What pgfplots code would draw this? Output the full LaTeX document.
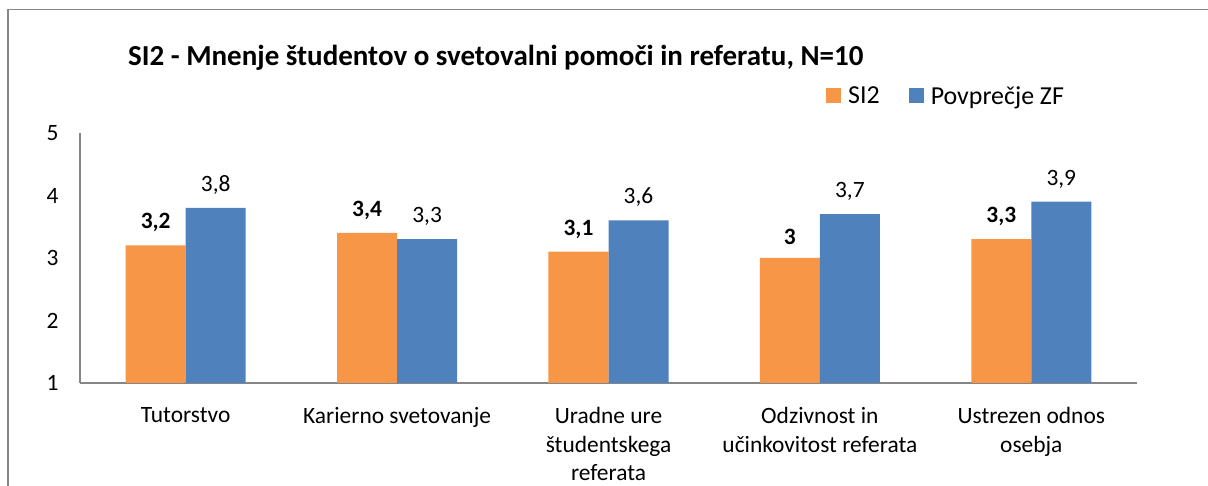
\documentclass[border=0pt]{standalone}
\usepackage{pgfplots}
\pgfplotsset{compat=1.18}
\usepackage{fontspec}
\setmainfont{Carlito}

\definecolor{siorange}{HTML}{F79646}
\definecolor{zfblue}{HTML}{4F81BD}
\definecolor{axgray}{HTML}{868686}

\begin{document}
\begin{tikzpicture}[x=1bp,y=1bp]
% page = 1208 x 486, axis origin at pixel (80,383)
\useasboundingbox (-80,-103) rectangle (1128,383);
\draw[axgray, line width=1.8bp] (-72,-110) -- (-72,373.5) -- (1135,373.5);

\begin{axis}[
    at={(0,0)}, anchor=south west,
    scale only axis, width=1057bp, height=250bp,
    ymin=1, ymax=5, ytick={1,2,3,4,5},
    xmin=-0.5, xmax=4.5, xtick=data,
    xticklabels={Tutorstvo, Karierno svetovanje, {Uradne ure\\študentskega\\referata},
                 {Odzivnost in\\učinkovitost referata}, {Ustrezen odnos\\osebja}},
    axis x line=bottom, axis y line=left,
    axis line style={axgray, line width=1.2bp, -},
    major tick length=0pt,
    ybar=0pt, bar width=60bp,
    /pgf/number format/.cd, use comma, fixed, precision=1, assume math mode=true, /pgfplots/.cd,
    ticklabel style={font=\fontsize{23.5}{28.5}\selectfont},
    xticklabel style={align=center, anchor=north, yshift=-21bp},
    yticklabel style={anchor=east, xshift=-18bp},
    nodes near coords,
    nodes near coords style={font=\fontsize{23.5}{28}\selectfont, anchor=south, yshift=10bp, text=black},
    legend columns=2,
    legend style={at={(axis description cs:0.7058,1.148)}, anchor=west, draw=none, fill=none,
        inner sep=0pt, nodes={inner sep=0pt}, font=\fontsize{26}{30}\selectfont,
        /tikz/every odd column/.append style={column sep=7bp},
        /tikz/every even column/.append style={column sep=29bp}},
    legend image code/.code={\fill[#1] (0bp,-7.5bp) rectangle (15bp,7.5bp);},
]
\addplot[fill=siorange, draw=none,
    every node near coord/.append style={font=\fontsize{23.5}{28}\selectfont\bfseries}]
    coordinates {(0,3.2) (1,3.4) (2,3.1) (3,3.0) (4,3.3)};
\addplot[fill=zfblue, draw=none]
    coordinates {(0,3.8) (1,3.3) (2,3.6) (3,3.7) (4,3.9)};
\legend{SI2, Povprečje ZF}
\end{axis}

\node[anchor=base west, inner sep=0pt, font=\fontsize{29.1}{34}\selectfont\bfseries]
    at (48,317) {SI2 - Mnenje študentov o svetovalni pomoči in referatu, N=10};
\end{tikzpicture}
\end{document}
